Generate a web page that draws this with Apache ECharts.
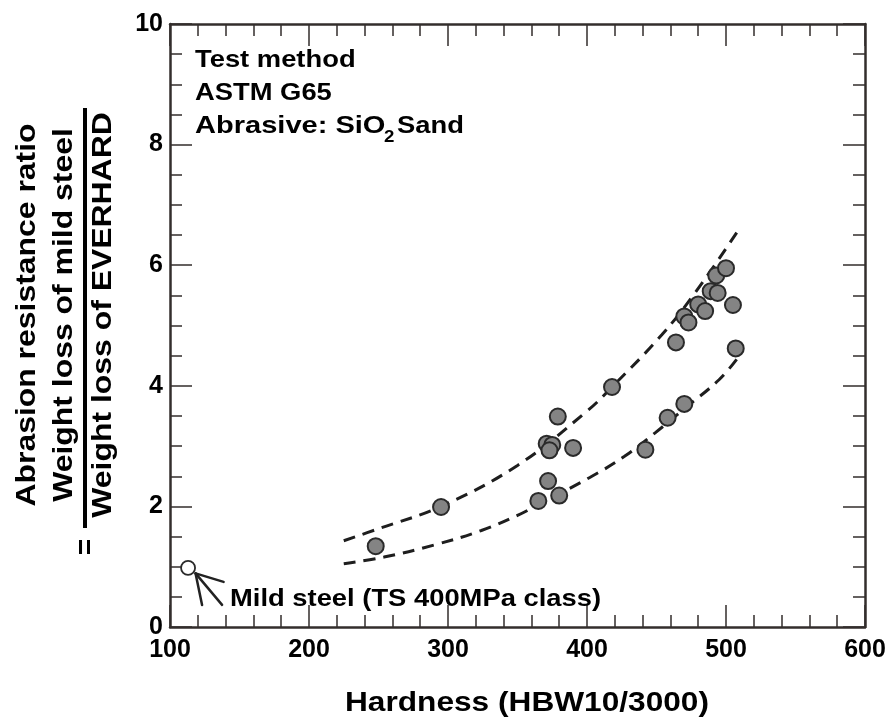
<!DOCTYPE html>
<html>
<head>
<meta charset="utf-8">
<script src="https://cdn.jsdelivr.net/npm/echarts@6/dist/echarts.min.js"></script>
<style>html,body{margin:0;padding:0;background:#fff}#c{width:890px;height:725px}</style>
</head>
<body>
<div id="c"></div>
<script>
// ---- data ----
const xMin = 100, xMax = 600, xStep = 100;
const yMin = 0, yMax = 10, yStep = 2;

const hardness = [248, 295, 365, 372, 380, 371, 375, 373, 379, 390, 418, 442, 458, 470, 464, 470, 473, 480, 485, 489, 494, 493, 500, 505, 507];
const ratio    = [1.34, 1.99, 2.09, 2.42, 2.18, 3.04, 3.02, 2.93, 3.49, 2.97, 3.98, 2.94, 3.47, 3.70, 4.72, 5.15, 5.05, 5.35, 5.24, 5.57, 5.54, 5.83, 5.95, 5.34, 4.62];

const mildSteelHardness = [113];
const mildSteelRatio = [0.98];

const upperX = [225, 250, 295, 350, 400, 418, 454, 478, 508];
const upperY = [1.43, 1.63, 2.00, 2.68, 3.58, 3.98, 4.85, 5.55, 6.55];

const lowerX = [225, 254, 290, 324, 350, 365, 402, 427, 449, 470, 495, 508];
const lowerY = [1.05, 1.16, 1.36, 1.60, 1.85, 2.03, 2.48, 2.83, 3.22, 3.62, 4.10, 4.45];

const yTitle1 = 'Abrasion resistance ratio';
const yTitleNum = 'Weight loss of mild steel';
const yTitleDen = 'Weight loss of EVERHARD';
const xTitle = 'Hardness (HBW10/3000)';
const noteLines = ['Test method', 'ASTM G65'];
const mildLabel = 'Mild steel (TS 400MPa class)';

// ---- chart ----
const FF = '"Liberation Sans", Arial, Helvetica, sans-serif';
const LINE = '#332e2c';
const zip = (a, b) => a.map((v, i) => [v, b[i]]);

function xAxisCfg(pos, labels) {
  return {
    type: 'value', position: pos, min: xMin, max: xMax, interval: xStep,
    axisLine: { show: true, onZero: false, lineStyle: { color: LINE, width: 2.5 } },
    axisTick: { show: true, inside: true, length: 22, lineStyle: { color: LINE, width: 1.5 } },
    minorTick: { show: true, splitNumber: 5, length: 12, lineStyle: { color: LINE, width: 1.5 } },
    splitLine: { show: false },
    axisLabel: { show: labels, margin: 11, color: '#000', fontFamily: FF, fontWeight: 'bold', fontSize: 25 }
  };
}
function yAxisCfg(pos, labels) {
  return {
    type: 'value', position: pos, min: yMin, max: yMax, interval: yStep,
    axisLine: { show: true, onZero: false, lineStyle: { color: LINE, width: 2.5 } },
    axisTick: { show: true, inside: true, length: 22, lineStyle: { color: LINE, width: 1.5 } },
    minorTick: { show: true, splitNumber: 4, length: 12, lineStyle: { color: LINE, width: 1.5 } },
    splitLine: { show: false },
    axisLabel: { show: labels, margin: 7, color: '#000', fontFamily: FF, fontWeight: 'bold', fontSize: 25 }
  };
}

function txt(text, x, y, size, opts) {
  opts = opts || {};
  return {
    type: 'text', x: x, y: y, z: 100,
    rotation: opts.rotation || 0,
    scaleX: opts.scaleX || 1,
    style: {
      text: text, fill: '#000',
      font: 'bold ' + size + 'px ' + FF,
      align: opts.align || 'left', verticalAlign: 'middle',
      textAlign: opts.align || 'left', textVerticalAlign: 'middle'
    }
  };
}

const chart = echarts.init(document.getElementById('c'), null, { renderer: 'canvas' });

const graphics = [
  // y-axis title block
  txt(yTitle1, 27, 315, 28, { rotation: Math.PI / 2, scaleX: 1.14, align: 'center' }),
  txt(yTitleNum, 64, 315, 28, { rotation: Math.PI / 2, scaleX: 1.14, align: 'center' }),
  txt(yTitleDen, 103, 315, 28, { rotation: Math.PI / 2, scaleX: 1.14, align: 'center' }),
  { type: 'rect', z: 100, shape: { x: 83, y: 108, width: 4, height: 420 }, style: { fill: '#000' } },
  txt('=', 86, 547, 28, { rotation: Math.PI / 2, align: 'center' }),
  // x-axis title
  txt(xTitle, 527, 703, 28, { scaleX: 1.13, align: 'center' }),
  // test notes
  txt(noteLines[0], 195, 60, 24, { scaleX: 1.14 }),
  txt(noteLines[1], 195, 93, 24, { scaleX: 1.14 }),
  txt('Abrasive: SiO', 195, 126, 24, { scaleX: 1.21 }),
  txt('2', 384, 137, 17, { scaleX: 1.1 }),
  txt('Sand', 397, 126, 24, { scaleX: 1.14 }),
  // mild steel label
  txt(mildLabel, 230, 599, 24, { scaleX: 1.14 })
];

chart.setOption({
  animation: false,
  backgroundColor: '#fff',
  grid: { left: 170, right: 25, top: 24, bottom: 98, containLabel: false },
  xAxis: [xAxisCfg('bottom', true), xAxisCfg('top', false)],
  yAxis: [yAxisCfg('left', true), yAxisCfg('right', false)],
  graphic: graphics,
  series: [
    {
      type: 'line', data: zip(upperX, upperY), smooth: 0.4, symbol: 'none', z: 2,
      lineStyle: { color: '#1e1e1e', width: 3, type: [12, 8] }
    },
    {
      type: 'line', data: zip(lowerX, lowerY), smooth: 0.4, symbol: 'none', z: 2,
      lineStyle: { color: '#1e1e1e', width: 3, type: [12, 8] }
    },
    {
      type: 'scatter', data: zip(hardness, ratio), symbol: 'circle', symbolSize: 16, z: 5,
      itemStyle: { color: '#848484', borderColor: '#2a2a2a', borderWidth: 2, opacity: 1 }
    },
    {
      type: 'scatter', data: zip(mildSteelHardness, mildSteelRatio), symbol: 'circle', symbolSize: 14, z: 5,
      itemStyle: { color: '#fff', borderColor: '#2a2a2a', borderWidth: 1.8, opacity: 1 }
    }
  ]
});

// arrow pointing to the mild steel point, positioned relative to its pixel location
const p = chart.convertToPixel({ xAxisIndex: 0, yAxisIndex: 0 }, [mildSteelHardness[0], mildSteelRatio[0]]);
const ax = p[0] + 7.5, ay = p[1] + 5.5;
const arm = (dx, dy) => ({
  type: 'line', z: 100,
  shape: { x1: ax, y1: ay, x2: p[0] + dx, y2: p[1] + dy },
  style: { stroke: '#222', lineWidth: 2.5, lineCap: 'round' }
});
chart.setOption({ graphic: graphics.concat([arm(35.5, 14), arm(34, 37), arm(14, 37)]) });
</script>
</body>
</html>
